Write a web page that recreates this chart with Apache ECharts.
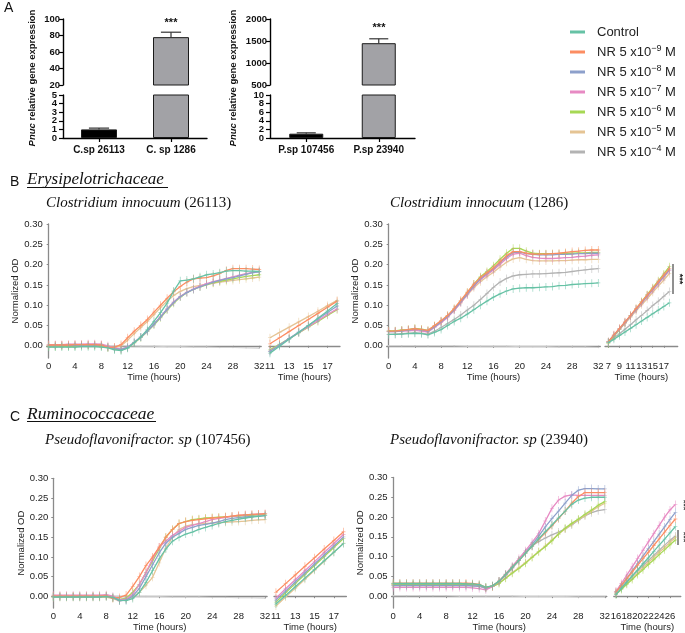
<!DOCTYPE html>
<html><head><meta charset="utf-8">
<script src="https://cdn.jsdelivr.net/npm/echarts@6/dist/echarts.min.js"></script>
<style>html,body{margin:0;padding:0;background:#fff}#c{width:685px;height:633px}</style>
</head><body><div id="c"></div>
<script>
// ---------------- Panel A data ----------------
const aLeftCats = ['C.sp 26113', 'C. sp 1286'];
const aLeftMeans = [1.0, 78];
const aLeftErr = [0.15, 6];
const aRightCats = ['P.sp 107456', 'P.sp 23940'];
const aRightMeans = [1.0, 1450];
const aRightErr = [0.2, 100];
const aLeftLowerTicks = [0, 1, 2, 3, 4, 5];
const aRightLowerTicks = [0, 2, 4, 6, 8, 10];

// ---------------- Series names ----------------
const seriesNames = ['Control', 'NR 5 x10⁻⁹ M', 'NR 5 x10⁻⁸ M', 'NR 5 x10⁻⁷ M', 'NR 5 x10⁻⁶ M', 'NR 5 x10⁻⁵ M', 'NR 5 x10⁻⁴ M'];
const legendExps = ['', '−9', '−8', '−7', '−6', '−5', '−4'];

// ---------------- Time / tick lists ----------------
const hours = [0,1,2,3,4,5,6,7,8,9,10,11,12,13,14,15,16,17,18,19,20,21,22,23,24,25,26,27,28,29,30,31,32];
const blankHours = [0,2,4,6,8,10,12,14,16,18,20,22,24,26,28,30,32];
const mainHourTicks = [0,4,8,12,16,20,24,28,32];
const odTicks = [0, 0.05, 0.10, 0.15, 0.20, 0.25, 0.30];
const b1SideHours = [11,12,13,14,15,16,17,18];
const b1SideTicks = [11,13,15,17];
const b2SideHours = [7,8,9,10,11,12,13,14,15,16,17,18];
const b2SideTicks = [7,9,11,13,15,17];
const c1SideHours = [11,12,13,14,15,16,17,18];
const c1SideTicks = [11,13,15,17];
const c2SideHours = [16,17,18,19,20,21,22,23,24,25,26,27];
const c2SideTicks = [16,18,20,22,24,26];

// ---------------- B1: Clostridium innocuum (26113) ----------------
const b1Control = [-0.003,-0.003,-0.003,-0.003,-0.003,-0.002,-0.002,-0.002,-0.003,-0.005,-0.010,-0.012,-0.006,0.008,0.022,0.040,0.060,0.082,0.105,0.135,0.160,0.162,0.165,0.170,0.175,0.177,0.180,0.184,0.185,0.185,0.184,0.184,0.183];
const b1Nr9 = [0.002,0.002,0.002,0.002,0.003,0.003,0.003,0.003,0.002,-0.004,-0.003,0.003,0.020,0.036,0.050,0.065,0.083,0.100,0.117,0.133,0.146,0.157,0.165,0.167,0.168,0.172,0.178,0.186,0.190,0.190,0.190,0.189,0.188];
const b1Nr8 = [0.000,0.000,0.001,0.001,0.001,0.002,0.002,0.002,0.001,-0.003,-0.007,-0.009,-0.004,0.008,0.021,0.036,0.053,0.071,0.090,0.107,0.121,0.131,0.139,0.145,0.151,0.157,0.161,0.165,0.168,0.172,0.176,0.180,0.182];
const b1Nr7 = [0.003,0.003,0.003,0.004,0.004,0.004,0.005,0.005,0.004,0.000,-0.005,-0.008,-0.003,0.009,0.022,0.037,0.054,0.072,0.091,0.108,0.122,0.132,0.140,0.147,0.153,0.158,0.162,0.166,0.170,0.174,0.178,0.181,0.183];
const b1Nr6 = [-0.002,-0.002,-0.001,-0.001,-0.001,0.000,0.000,0.000,-0.001,-0.004,-0.008,-0.010,-0.005,0.007,0.020,0.035,0.051,0.069,0.088,0.105,0.120,0.131,0.139,0.145,0.150,0.155,0.159,0.162,0.165,0.168,0.171,0.173,0.175];
const b1Nr5 = [0.001,0.001,0.001,0.001,0.002,0.002,0.002,0.002,0.001,-0.002,-0.004,0.000,0.014,0.030,0.045,0.060,0.077,0.094,0.110,0.124,0.134,0.141,0.146,0.149,0.152,0.154,0.157,0.159,0.161,0.163,0.165,0.167,0.169];
const b1Blank = [0.000,0.000,0.000,0.000,0.000,0.000,0.000,-0.001,-0.001,-0.002,-0.002,-0.003,-0.003,-0.004,-0.004,-0.005,-0.006];
const b1SideControl = [-0.018,-0.001,0.016,0.033,0.050,0.068,0.086,0.104];
const b1SideNr9 = [0.005,0.020,0.035,0.050,0.065,0.080,0.095,0.110];
const b1SideNr8 = [-0.014,0.002,0.018,0.034,0.050,0.066,0.082,0.098];
const b1SideNr7 = [-0.013,0.002,0.017,0.032,0.047,0.062,0.077,0.091];
const b1SideNr6 = [-0.010,0.004,0.018,0.032,0.046,0.060,0.075,0.089];
const b1SideNr5 = [0.020,0.033,0.046,0.059,0.072,0.085,0.099,0.112];

// ---------------- B2: Clostridium innocuum (1286) ----------------
const b2Control = [0.028,0.028,0.029,0.030,0.031,0.030,0.027,0.033,0.040,0.050,0.060,0.068,0.078,0.089,0.100,0.110,0.120,0.128,0.135,0.140,0.142,0.143,0.143,0.144,0.145,0.146,0.148,0.149,0.151,0.152,0.153,0.154,0.155];
const b2Nr9 = [0.036,0.036,0.038,0.040,0.042,0.040,0.038,0.050,0.062,0.075,0.092,0.112,0.132,0.152,0.168,0.180,0.192,0.207,0.222,0.232,0.232,0.228,0.226,0.226,0.226,0.227,0.228,0.230,0.232,0.233,0.235,0.236,0.236];
const b2Nr8 = [0.035,0.035,0.037,0.039,0.041,0.039,0.036,0.047,0.059,0.072,0.089,0.108,0.128,0.148,0.165,0.178,0.190,0.205,0.219,0.230,0.231,0.227,0.225,0.224,0.224,0.224,0.225,0.225,0.226,0.227,0.227,0.228,0.228];
const b2Nr7 = [0.035,0.035,0.036,0.037,0.038,0.036,0.034,0.045,0.057,0.070,0.087,0.106,0.126,0.146,0.163,0.175,0.187,0.201,0.215,0.226,0.228,0.222,0.218,0.216,0.215,0.215,0.216,0.217,0.218,0.220,0.221,0.223,0.224];
const b2Nr6 = [0.037,0.037,0.039,0.040,0.043,0.041,0.038,0.049,0.061,0.074,0.091,0.110,0.131,0.152,0.170,0.183,0.197,0.213,0.228,0.240,0.240,0.233,0.228,0.227,0.227,0.227,0.227,0.228,0.228,0.229,0.229,0.230,0.230];
const b2Nr5 = [0.036,0.036,0.038,0.040,0.042,0.040,0.037,0.048,0.060,0.072,0.088,0.106,0.125,0.143,0.158,0.170,0.181,0.194,0.206,0.214,0.217,0.213,0.210,0.209,0.209,0.209,0.210,0.210,0.211,0.212,0.212,0.213,0.213];
const b2Nr4 = [0.028,0.029,0.030,0.031,0.032,0.031,0.029,0.036,0.045,0.055,0.065,0.076,0.088,0.100,0.114,0.129,0.144,0.157,0.166,0.172,0.175,0.176,0.177,0.177,0.178,0.179,0.180,0.181,0.183,0.185,0.187,0.189,0.190];
const b2Blank = [0.000,0.000,0.000,0.000,0.000,0.000,-0.001,-0.001,-0.001,-0.001,-0.002,-0.002,-0.002,-0.003,-0.003,-0.003,-0.004];
const b2SideControl = [0.008,0.016,0.025,0.034,0.043,0.052,0.061,0.070,0.079,0.088,0.097,0.106];
const b2SideNr9 = [0.010,0.027,0.043,0.059,0.075,0.092,0.108,0.125,0.141,0.158,0.174,0.190];
const b2SideNr8 = [0.010,0.026,0.042,0.058,0.074,0.090,0.106,0.123,0.139,0.155,0.171,0.187];
const b2SideNr7 = [0.009,0.025,0.041,0.057,0.073,0.089,0.105,0.121,0.137,0.153,0.169,0.185];
const b2SideNr6 = [0.006,0.023,0.040,0.057,0.074,0.091,0.109,0.126,0.143,0.160,0.177,0.195];
const b2SideNr5 = [0.010,0.025,0.040,0.055,0.070,0.086,0.101,0.116,0.132,0.147,0.162,0.178];
const b2SideNr4 = [0.008,0.019,0.030,0.041,0.052,0.064,0.075,0.087,0.099,0.110,0.122,0.134];

// ---------------- C1: Pseudoflavonifractor sp (107456) ----------------
const c1Control = [-0.002,-0.002,-0.002,-0.002,-0.002,-0.002,-0.002,-0.002,-0.001,-0.003,-0.010,-0.011,-0.006,0.010,0.035,0.065,0.095,0.120,0.140,0.150,0.158,0.163,0.170,0.175,0.180,0.185,0.190,0.193,0.196,0.199,0.201,0.203,0.205];
const c1Nr9 = [0.000,0.000,0.000,0.000,0.000,0.000,0.000,0.000,0.001,-0.005,-0.003,0.003,0.025,0.050,0.078,0.100,0.125,0.150,0.170,0.185,0.190,0.193,0.195,0.197,0.199,0.200,0.202,0.204,0.206,0.207,0.208,0.209,0.210];
const c1Nr8 = [-0.001,-0.001,-0.001,-0.001,-0.001,-0.001,-0.001,-0.001,0.000,-0.004,-0.012,-0.010,0.000,0.020,0.050,0.080,0.110,0.135,0.150,0.160,0.170,0.175,0.180,0.183,0.186,0.190,0.195,0.198,0.200,0.202,0.203,0.204,0.205];
const c1Nr7 = [0.003,0.003,0.003,0.003,0.003,0.003,0.003,0.003,0.004,0.000,-0.008,-0.008,0.005,0.030,0.060,0.095,0.125,0.140,0.155,0.165,0.175,0.180,0.185,0.190,0.195,0.198,0.200,0.203,0.205,0.207,0.208,0.209,0.210];
const c1Nr6 = [0.000,0.000,0.000,0.000,0.000,0.000,0.000,0.000,0.001,-0.003,-0.008,-0.005,0.010,0.030,0.060,0.090,0.120,0.150,0.170,0.185,0.190,0.195,0.197,0.199,0.200,0.201,0.202,0.203,0.204,0.205,0.206,0.207,0.208];
const c1Nr5 = [-0.003,-0.003,-0.003,-0.003,-0.003,-0.003,-0.003,-0.003,-0.002,-0.006,-0.012,-0.008,-0.003,0.010,0.028,0.048,0.085,0.122,0.150,0.170,0.178,0.182,0.184,0.185,0.186,0.187,0.188,0.189,0.190,0.191,0.193,0.194,0.195];
const c1Blank = [0.000,0.000,0.000,0.000,0.000,-0.001,-0.001,-0.001,-0.001,-0.002,-0.002,-0.002,-0.003,-0.003,-0.004,-0.004,-0.005];
const c1SideControl = [-0.020,0.002,0.024,0.046,0.068,0.090,0.112,0.134];
const c1SideNr9 = [0.010,0.032,0.054,0.076,0.098,0.120,0.142,0.164];
const c1SideNr8 = [-0.010,0.013,0.036,0.059,0.082,0.105,0.128,0.151];
const c1SideNr7 = [-0.005,0.019,0.042,0.065,0.088,0.111,0.134,0.157];
const c1SideNr6 = [-0.015,0.009,0.032,0.055,0.078,0.101,0.124,0.147];
const c1SideNr5 = [-0.025,-0.002,0.020,0.043,0.066,0.089,0.112,0.135];

// ---------------- C2: Pseudoflavonifractor sp (23940) ----------------
const c2Control = [0.032,0.032,0.032,0.032,0.032,0.032,0.032,0.032,0.032,0.032,0.032,0.031,0.031,0.029,0.023,0.026,0.038,0.055,0.073,0.090,0.108,0.126,0.145,0.163,0.180,0.198,0.215,0.232,0.243,0.248,0.250,0.250,0.250];
const c2Nr9 = [0.033,0.033,0.033,0.033,0.033,0.033,0.033,0.033,0.033,0.033,0.033,0.033,0.032,0.030,0.022,0.026,0.038,0.055,0.073,0.090,0.108,0.126,0.143,0.160,0.178,0.196,0.215,0.235,0.252,0.262,0.262,0.262,0.262];
const c2Nr8 = [0.027,0.027,0.027,0.027,0.027,0.027,0.027,0.027,0.027,0.027,0.027,0.027,0.026,0.025,0.020,0.026,0.037,0.054,0.072,0.090,0.110,0.130,0.152,0.175,0.196,0.215,0.235,0.255,0.268,0.272,0.272,0.271,0.271];
const c2Nr7 = [0.022,0.022,0.022,0.022,0.022,0.022,0.022,0.022,0.022,0.022,0.022,0.022,0.021,0.019,0.016,0.024,0.038,0.056,0.076,0.095,0.115,0.136,0.158,0.190,0.222,0.243,0.253,0.256,0.255,0.255,0.255,0.255,0.255];
const c2Nr6 = [0.030,0.030,0.030,0.030,0.030,0.030,0.030,0.030,0.030,0.030,0.030,0.030,0.029,0.027,0.022,0.024,0.032,0.045,0.058,0.070,0.083,0.098,0.112,0.125,0.140,0.157,0.172,0.184,0.195,0.207,0.218,0.230,0.239];
const c2Nr5 = [0.029,0.029,0.029,0.029,0.029,0.029,0.029,0.029,0.029,0.029,0.029,0.029,0.028,0.026,0.021,0.024,0.033,0.046,0.060,0.072,0.085,0.099,0.113,0.127,0.142,0.157,0.170,0.182,0.193,0.204,0.215,0.226,0.235];
const c2Nr4 = [0.026,0.026,0.026,0.026,0.026,0.026,0.026,0.026,0.026,0.026,0.026,0.026,0.026,0.025,0.020,0.025,0.036,0.052,0.070,0.090,0.110,0.127,0.138,0.147,0.155,0.162,0.170,0.180,0.192,0.203,0.211,0.216,0.219];
const c2Blank = [0.001,0.001,0.001,0.001,0.001,0.000,0.000,0.000,0.000,0.000,-0.001,-0.001,-0.001,-0.001,-0.002,-0.002,-0.002];
const c2SideControl = [0.004,0.020,0.035,0.051,0.066,0.082,0.097,0.113,0.129,0.144,0.160,0.176];
const c2SideNr9 = [0.010,0.027,0.044,0.061,0.078,0.095,0.111,0.128,0.145,0.162,0.179,0.195];
const c2SideNr8 = [0.008,0.027,0.045,0.064,0.082,0.101,0.120,0.138,0.157,0.175,0.194,0.212];
const c2SideNr7 = [0.012,0.032,0.053,0.074,0.095,0.116,0.137,0.158,0.179,0.200,0.218,0.232];
const c2SideNr6 = [0.005,0.017,0.030,0.042,0.055,0.067,0.080,0.092,0.105,0.117,0.130,0.142];
const c2SideNr5 = [0.006,0.019,0.032,0.045,0.058,0.072,0.085,0.098,0.111,0.123,0.136,0.148];
const c2SideNr4 = [0.012,0.025,0.038,0.051,0.064,0.077,0.090,0.103,0.116,0.129,0.141,0.152];

// ---------------- Styling & layout ----------------
const SET2 = ['#66c2a5', '#fc8d62', '#8da0cb', '#e78ac3', '#a6d854', '#e5c494', '#b3b3b3'];
const BAR_COLORS = ['#000000', '#a2a2a6'];
const FONT = 'Liberation Sans, Arial, sans-serif';
const SERIF = 'Liberation Serif, Times New Roman, serif';
const PLUS = 'path://M1.6,0h0.8v8h-0.8z M0,3.6h4v0.8h-4z';
const AX_GRAY = '#8a8a8a';

const panels = [
  { grid: {left: 46.7, top: 224, width: 214.5, height: 134}, xr: [-0.3, 32.3], ticks: mainHourTicks, main: true, times: hours,
    vals: [b1Control, b1Nr9, b1Nr8, b1Nr7, b1Nr6, b1Nr5, null], blank: b1Blank },
  { grid: {left: 269, top: 224, width: 71, height: 134}, xr: [10.9, 18.3], ticks: b1SideTicks, main: false, times: b1SideHours,
    vals: [b1SideControl, b1SideNr9, b1SideNr8, b1SideNr7, b1SideNr6, b1SideNr5, null] },
  { grid: {left: 386.7, top: 224, width: 213.6, height: 134}, xr: [-0.3, 32.3], ticks: mainHourTicks, main: true, times: hours,
    vals: [b2Control, b2Nr9, b2Nr8, b2Nr7, b2Nr6, b2Nr5, b2Nr4], blank: b2Blank },
  { grid: {left: 605, top: 224, width: 72.7, height: 134}, xr: [6.4, 19.5], ticks: b2SideTicks, main: false, times: b2SideHours,
    vals: [b2SideControl, b2SideNr9, b2SideNr8, b2SideNr7, b2SideNr6, b2SideNr5, b2SideNr4] },
  { grid: {left: 52.3, top: 478.3, width: 214.8, height: 133}, xr: [-0.15, 32.3], ticks: mainHourTicks, main: true, times: hours,
    vals: [c1Control, c1Nr9, c1Nr8, c1Nr7, c1Nr6, c1Nr5, null], blank: c1Blank },
  { grid: {left: 274, top: 478.3, width: 72.4, height: 133}, xr: [10.8, 18.3], ticks: c1SideTicks, main: false, times: c1SideHours,
    vals: [c1SideControl, c1SideNr9, c1SideNr8, c1SideNr7, c1SideNr6, c1SideNr5, null] },
  { grid: {left: 391.6, top: 477.5, width: 215.2, height: 133.5}, xr: [-0.25, 32.3], ticks: mainHourTicks, main: true, times: hours,
    vals: [c2Control, c2Nr9, c2Nr8, c2Nr7, c2Nr6, c2Nr5, c2Nr4], blank: c2Blank },
  { grid: {left: 613.8, top: 477.5, width: 67, height: 133.5}, xr: [15.6, 28], ticks: c2SideTicks, main: false, times: c2SideHours,
    vals: [c2SideControl, c2SideNr9, c2SideNr8, c2SideNr7, c2SideNr6, c2SideNr5, c2SideNr4] }
];

const grids = [
  {left: 63, top: 19, width: 144, height: 66},
  {left: 63, top: 95, width: 144, height: 43},
  {left: 270, top: 19, width: 145, height: 66},
  {left: 270, top: 95, width: 145, height: 43}
];
const xAxes = [], yAxes = [], series = [];

const barAxisLine = {show: true, lineStyle: {color: '#000', width: 1.4}};
const barYLabel = {fontWeight: 'bold', fontSize: 9.5, color: '#111', margin: 3, showMinLabel: true, showMaxLabel: true,
  hideOverlap: false, formatter: v => String(v)};
const barTick = {show: true, length: 4, lineStyle: {color: '#000', width: 1.2}};

function addBarChart(upperIdx, lowerIdx, cats, means, errs, upperRange, lowerRange, barW) {
  xAxes[upperIdx] = {type: 'category', gridIndex: upperIdx, data: cats, show: false};
  xAxes[lowerIdx] = {type: 'category', gridIndex: lowerIdx, data: cats, axisLine: barAxisLine,
    axisTick: {show: true, length: 4, alignWithLabel: true, lineStyle: {color: '#000', width: 1.2}},
    axisLabel: {fontWeight: 'bold', fontSize: 10, color: '#111', margin: 7, interval: 0}};
  yAxes[upperIdx] = {type: 'value', gridIndex: upperIdx, min: upperRange[0], max: upperRange[1], interval: upperRange[2],
    axisLine: barAxisLine, axisTick: barTick, axisLabel: barYLabel, splitLine: {show: false}};
  yAxes[lowerIdx] = {type: 'value', gridIndex: lowerIdx, min: lowerRange[0], max: lowerRange[1], interval: lowerRange[2],
    axisLine: barAxisLine, axisTick: barTick, axisLabel: {show: false}, splitLine: {show: false}};
  [upperIdx, lowerIdx].forEach(gi => {
    series.push({type: 'bar', xAxisIndex: gi, yAxisIndex: gi, barWidth: barW, clip: true, silent: true,
      data: means.map((v, i) => ({value: v, itemStyle: {color: BAR_COLORS[i]}})),
      itemStyle: {borderColor: '#1a1a1a', borderWidth: 1}});
    series.push({type: 'custom', xAxisIndex: gi, yAxisIndex: gi, clip: true, silent: true, z: 5,
      data: means.map((v, i) => [i, v, errs[i]]),
      renderItem: function (params, api) {
        const p0 = api.coord([api.value(0), api.value(1)]);
        const p1 = api.coord([api.value(0), api.value(1) + api.value(2)]);
        const w = barW * 0.28;
        const st = {stroke: '#333', lineWidth: 1.2};
        return {type: 'group', children: [
          {type: 'line', shape: {x1: p0[0], y1: p0[1], x2: p1[0], y2: p1[1]}, style: st},
          {type: 'line', shape: {x1: p1[0] - w, y1: p1[1], x2: p1[0] + w, y2: p1[1]}, style: st}
        ]};
      }});
  });
}
addBarChart(0, 1, aLeftCats, aLeftMeans, aLeftErr, [20, 100, 20], [0, 5, 1], 36);
addBarChart(2, 3, aRightCats, aRightMeans, aRightErr, [500, 2000, 500], [0, 10, 2], 34);

panels.forEach((p, k) => {
  const gi = 4 + k;
  grids[gi] = p.grid;
  xAxes[gi] = {type: 'value', gridIndex: gi, min: p.xr[0], max: p.xr[1],
    axisLine: {show: true, lineStyle: {color: AX_GRAY, width: 1.3}},
    axisTick: {show: true, length: 2, customValues: p.ticks, lineStyle: {color: AX_GRAY}},
    axisLabel: {customValues: p.ticks, color: '#222', fontSize: 9.5, margin: 3},
    splitLine: {show: false},
    name: 'Time (hours)', nameLocation: 'middle', nameGap: 14, nameTextStyle: {fontSize: 9.5, color: '#222'}};
  yAxes[gi] = {type: 'value', gridIndex: gi, min: -0.03, max: 0.30, show: p.main,
    axisLine: {show: true, lineStyle: {color: AX_GRAY, width: 1.3}},
    axisTick: {show: true, length: 2, customValues: odTicks, lineStyle: {color: AX_GRAY}},
    axisLabel: {customValues: odTicks, color: '#222', fontSize: 9.5, margin: 4, formatter: v => v.toFixed(2)},
    splitLine: {show: false},
    name: 'Normalized OD', nameLocation: 'middle', nameGap: 25, nameTextStyle: {fontSize: 9.5, color: '#222'}};
  if (p.blank) {
    series.push({type: 'line', name: 'Blank', xAxisIndex: gi, yAxisIndex: gi, silent: true,
      data: blankHours.map((t, i) => [t, p.blank[i]]), symbol: 'circle', symbolSize: 1.5,
      lineStyle: {color: '#cfcfcf', width: 1}, itemStyle: {color: '#c8c8c8'}, z: 1});
  }
  p.vals.forEach((vals, s) => {
    if (!vals) return;
    series.push({type: 'line', name: seriesNames[s], xAxisIndex: gi, yAxisIndex: gi, silent: true,
      data: p.times.map((t, i) => [t, vals[i]]),
      symbol: PLUS, symbolSize: [4, 8], showSymbol: true,
      lineStyle: {color: SET2[s], width: 1.3}, itemStyle: {color: SET2[s], opacity: 0.6},
      emphasis: {disabled: true}, z: 2 + (6 - s) * 0.01});
  });
});

function speciesTitle(x, y, italicPart, plainPart) {
  return {type: 'text', x: x, y: y, style: {
    text: '{i|' + italicPart + '}{n| ' + plainPart + '}', verticalAlign: 'middle',
    rich: {i: {fontFamily: SERIF, fontStyle: 'italic', fontSize: 15, fill: '#111'},
           n: {fontFamily: SERIF, fontSize: 15, fill: '#111'}}}};
}
function yTitle(x, y) {
  return {type: 'text', x: x, y: y, rotation: Math.PI / 2, style: {
    text: '{i|Pnuc}{n| relative gene expression}', align: 'center', verticalAlign: 'middle',
    rich: {i: {fontFamily: FONT, fontStyle: 'italic', fontWeight: 'bold', fontSize: 9.5, fill: '#111'},
           n: {fontFamily: FONT, fontWeight: 'bold', fontSize: 9.5, fill: '#111'}}}};
}
const graphics = [
  {type: 'text', x: 4, y: 1, style: {text: 'A', fontFamily: FONT, fontSize: 14, fill: '#111'}},
  yTitle(32, 78), yTitle(233, 78),
  {type: 'text', x: 171, y: 23, style: {text: '***', fontFamily: FONT, fontWeight: 'bold', fontSize: 11, fill: '#111', align: 'center', verticalAlign: 'middle'}},
  {type: 'text', x: 379, y: 28, style: {text: '***', fontFamily: FONT, fontWeight: 'bold', fontSize: 11, fill: '#111', align: 'center', verticalAlign: 'middle'}},
  {type: 'text', x: 10, y: 182, style: {text: 'B', fontFamily: FONT, fontSize: 14, fill: '#111', verticalAlign: 'middle'}},
  {type: 'text', x: 27, y: 180, style: {text: 'Erysipelotrichaceae', fontFamily: SERIF, fontStyle: 'italic', fontSize: 17, fill: '#111', verticalAlign: 'middle'}},
  {type: 'line', shape: {x1: 27, y1: 187.5, x2: 168, y2: 187.5}, style: {stroke: '#111', lineWidth: 1}},
  speciesTitle(46, 203, 'Clostridium innocuum', '(26113)'),
  speciesTitle(390, 203, 'Clostridium innocuum', '(1286)'),
  {type: 'text', x: 10, y: 417, style: {text: 'C', fontFamily: FONT, fontSize: 14, fill: '#111', verticalAlign: 'middle'}},
  {type: 'text', x: 27, y: 414, style: {text: 'Ruminococcaceae', fontFamily: SERIF, fontStyle: 'italic', fontSize: 17.5, fill: '#111', verticalAlign: 'middle'}},
  {type: 'line', shape: {x1: 27, y1: 421.5, x2: 156, y2: 421.5}, style: {stroke: '#111', lineWidth: 1}},
  speciesTitle(45, 440, 'Pseudoflavonifractor. sp', '(107456)'),
  speciesTitle(390, 440, 'Pseudoflavonifractor. sp', '(23940)'),
  {type: 'line', shape: {x1: 673, y1: 264, x2: 673, y2: 294}, style: {stroke: '#222', lineWidth: 1}},
  {type: 'text', x: 679, y: 279, rotation: -Math.PI / 2, style: {text: '***', fontFamily: FONT, fontWeight: 'bold', fontSize: 9, fill: '#222', align: 'center', verticalAlign: 'middle'}},
  {type: 'line', shape: {x1: 678, y1: 530, x2: 678, y2: 545}, style: {stroke: '#222', lineWidth: 1}},
  {type: 'text', x: 683, y: 537, rotation: -Math.PI / 2, style: {text: '***', fontFamily: FONT, fontWeight: 'bold', fontSize: 9, fill: '#222', align: 'center', verticalAlign: 'middle'}},
  {type: 'text', x: 683, y: 505, rotation: -Math.PI / 2, style: {text: '***', fontFamily: FONT, fontWeight: 'bold', fontSize: 9, fill: '#222', align: 'center', verticalAlign: 'middle'}}
];

const chart = echarts.init(document.getElementById('c'), null, {renderer: 'canvas'});
chart.setOption({
  animation: false,
  backgroundColor: '#fff',
  textStyle: {fontFamily: FONT},
  grid: grids, xAxis: xAxes, yAxis: yAxes, series: series, graphic: graphics,
  legend: {
    data: seriesNames, orient: 'vertical', left: 560, top: 19, itemWidth: 27, itemHeight: 14, itemGap: 4,
    icon: 'path://M5,5.5h15v3h-15z M0,0h0.01v0.01h-0.01z M26.99,13.99h0.01v0.01h-0.01z',
    itemStyle: {opacity: 1}, selectedMode: false,
    textStyle: {fontSize: 13, color: '#222', lineHeight: 16,
      rich: {n: {fontSize: 13, lineHeight: 16, color: '#222'}, s: {fontSize: 9, lineHeight: 9, color: '#222', verticalAlign: 'top'}}},
    formatter: function (name) {
      const k = seriesNames.indexOf(name);
      return k === 0 ? '{n|Control}' : '{n|NR 5 x10}{s|' + legendExps[k] + '}{n| M}';
    }
  }
});

// Dense tick labels of the lower (broken) axes: placed through the axis scale.
const lowerLabels = [];
[[1, aLeftLowerTicks], [3, aRightLowerTicks]].forEach(function (pair) {
  const yi = pair[0];
  pair[1].forEach(function (v) {
    const py = chart.convertToPixel({yAxisIndex: yi}, v);
    lowerLabels.push({type: 'text', x: grids[yi].left - 6, y: py,
      style: {text: String(v), fontFamily: FONT, fontWeight: 'bold', fontSize: 9.5, fill: '#111',
              align: 'right', verticalAlign: 'middle'}});
  });
});
chart.setOption({graphic: graphics.concat(lowerLabels)});
</script></body></html>
